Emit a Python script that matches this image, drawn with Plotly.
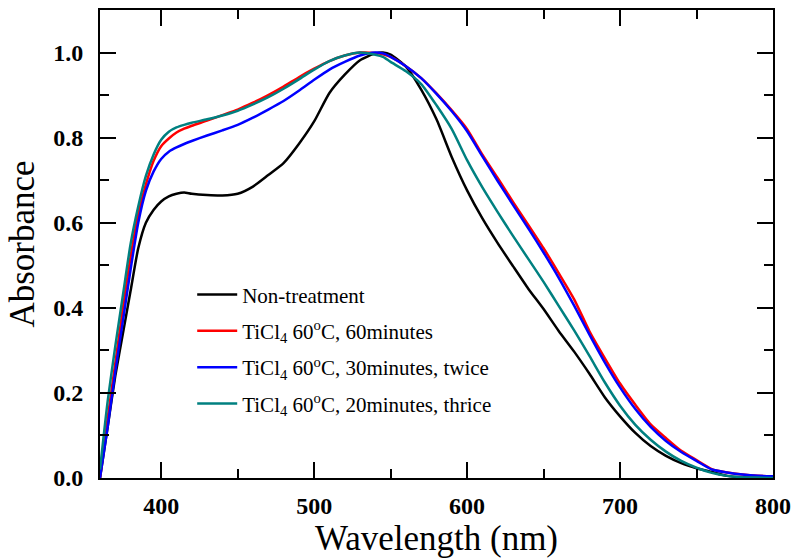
import plotly.graph_objects as go

wavelength = [360, 365, 370, 375, 380, 385, 390, 395, 400, 405, 410, 415, 420, 430, 440, 450,
              460, 470, 480, 490, 500, 510, 520, 530, 540, 545, 550, 560, 570, 580, 590, 600,
              610, 620, 630, 640, 650, 660, 670, 680, 690, 700, 710, 720, 730, 740, 750, 760,
              770, 780, 790, 800]

non_treatment = [0.0, 0.12, 0.24, 0.34, 0.44, 0.54, 0.60, 0.63, 0.65, 0.662, 0.668, 0.671, 0.668,
                 0.665, 0.664, 0.668, 0.685, 0.712, 0.74, 0.785, 0.838, 0.905, 0.948, 0.982, 0.998,
                 1.0, 0.995, 0.967, 0.913, 0.843, 0.754, 0.676, 0.61, 0.552, 0.498, 0.445, 0.397,
                 0.345, 0.297, 0.245, 0.19, 0.145, 0.106, 0.075, 0.052, 0.035, 0.023, 0.014,
                 0.005, 0.002, 0.001, 0.0]

ticl4_60min = [0.0, 0.14, 0.27, 0.40, 0.52, 0.62, 0.69, 0.745, 0.78, 0.798, 0.812, 0.821, 0.828,
               0.84, 0.853, 0.866, 0.882, 0.90, 0.92, 0.942, 0.962, 0.98, 0.993, 1.0, 0.999,
               0.996, 0.99, 0.968, 0.94, 0.904, 0.864, 0.82, 0.76, 0.705, 0.649, 0.595, 0.54,
               0.481, 0.42, 0.345, 0.282, 0.222, 0.172, 0.126, 0.094, 0.064, 0.042, 0.021,
               0.013, 0.008, 0.005, 0.004]

ticl4_30min_twice = [0.0, 0.12, 0.25, 0.37, 0.49, 0.60, 0.675, 0.72, 0.75, 0.767, 0.777, 0.785,
                     0.792, 0.805, 0.817, 0.83, 0.847, 0.866, 0.886, 0.91, 0.936, 0.96, 0.978,
                     0.993, 1.0, 0.998, 0.99, 0.968, 0.94, 0.903, 0.862, 0.815, 0.756, 0.698,
                     0.642, 0.587, 0.53, 0.47, 0.405, 0.337, 0.272, 0.213, 0.162, 0.12, 0.087,
                     0.061, 0.04, 0.02, 0.013, 0.008, 0.005, 0.004]

ticl4_20min_thrice = [0.02, 0.18, 0.31, 0.43, 0.55, 0.638, 0.71, 0.76, 0.795, 0.814, 0.824, 0.83,
                      0.835, 0.843, 0.852, 0.863, 0.878, 0.895, 0.915, 0.937, 0.96, 0.98, 0.993,
                      1.0, 0.995, 0.99, 0.978, 0.956, 0.926, 0.876, 0.82, 0.747, 0.683, 0.625,
                      0.569, 0.515, 0.461, 0.404, 0.347, 0.287, 0.225, 0.17, 0.125, 0.09, 0.062,
                      0.04, 0.024, 0.012, 0.005, 0.002, 0.001, 0.0]

series_names = [
    "Non-treatment",
    "TiCl<sub>4</sub> 60<sup>o</sup>C, 60minutes",
    "TiCl<sub>4</sub> 60<sup>o</sup>C, 30minutes, twice",
    "TiCl<sub>4</sub> 60<sup>o</sup>C, 20minutes, thrice",
]
series_values = [non_treatment, ticl4_60min, ticl4_30min_twice, ticl4_20min_thrice]
series_colors = ["#000000", "#ff0000", "#0000ff", "#008080"]

x_tick_vals = [400, 500, 600, 700, 800]
x_tick_text = ["400", "500", "600", "700", "800"]
y_tick_vals = [0.0, 0.2, 0.4, 0.6, 0.8, 1.0]
y_tick_text = ["0.0", "0.2", "0.4", "0.6", "0.8", "1.0"]

FONT = "Liberation Serif, Times New Roman, serif"

fig = go.Figure()
for i, (name, vals, col) in enumerate(zip(series_names, series_values, series_colors)):
    fig.add_trace(go.Scatter(
        x=wavelength, y=vals, mode="lines", name=name,
        line=dict(color=col, width=2.5, shape="spline", smoothing=0.6),
        legendgroup=f"g{i}",
    ))

axis_common = dict(
    showline=True, linecolor="black", linewidth=2, mirror="ticks",
    ticks="inside", ticklen=16, tickwidth=2, tickcolor="black",
    showgrid=False, zeroline=False, automargin=False,
    tickfont=dict(family=FONT, size=24, color="black", weight="bold"),
)

fig.update_xaxes(
    range=[360, 800], tickvals=x_tick_vals, ticktext=x_tick_text,
    minor=dict(ticks="inside", ticklen=9, tickwidth=2, tickcolor="black", dtick=50, tick0=350),
    title=dict(text="Wavelength (nm)", font=dict(family=FONT, size=35, color="black"), standoff=4),
    ticklabelstandoff=5,
    **axis_common,
)
fig.update_yaxes(
    range=[0, 1.1], tickvals=y_tick_vals, ticktext=y_tick_text,
    minor=dict(ticks="inside", ticklen=9, tickwidth=2, tickcolor="black", dtick=0.1, tick0=0),
    title=dict(text="Absorbance", font=dict(family=FONT, size=35, color="black"), standoff=8),
    ticklabelstandoff=10,
    **axis_common,
)

fig.update_layout(
    width=793, height=559,
    margin=dict(l=100, r=20, t=10, b=81),
    paper_bgcolor="white", plot_bgcolor="white",
    showlegend=True,
    legend=dict(
        x=0.137, y=0.435, xanchor="left", yanchor="top",
        font=dict(family=FONT, size=21, color="black"),
        bgcolor="rgba(0,0,0,0)", tracegroupgap=6,
        itemwidth=40,
    ),
)

# Remove the browser's default 8px body margin so the figure fills the window exactly.
fig.write_html(
    "out.html",
    config={"displayModeBar": False},
    post_script="document.body.style.margin='0';document.documentElement.style.overflow='hidden';",
)
